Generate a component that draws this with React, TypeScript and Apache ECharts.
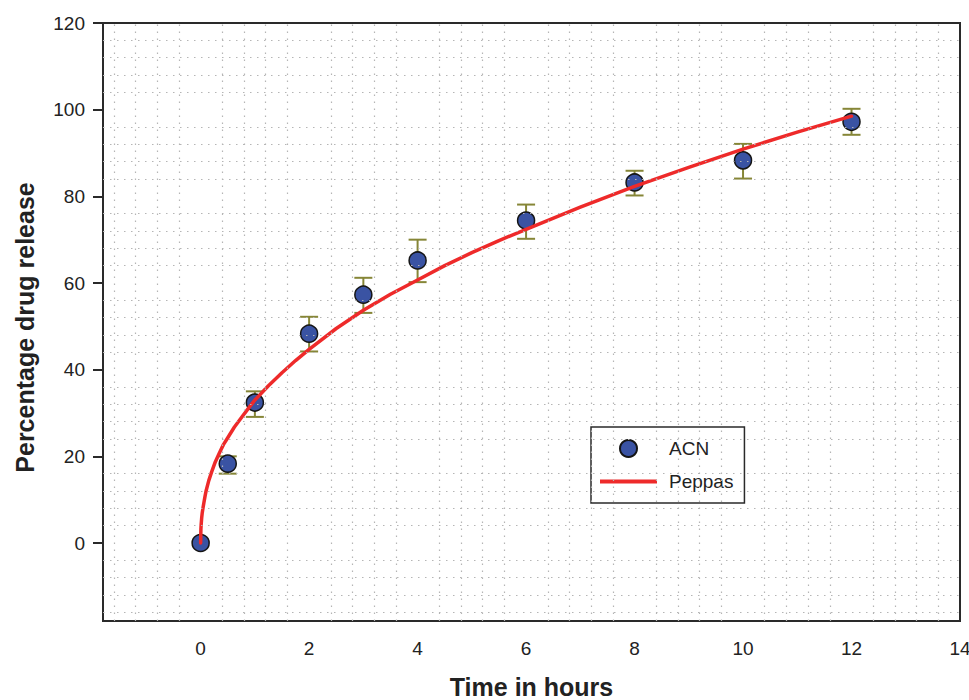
import React, { useEffect, useRef } from "react";
import * as echarts from "echarts";

// Observed release data (mean with error bar limits)
const timePoints = [0, 0.5, 1, 2, 3, 4, 6, 8, 10, 12];
const releaseMean = [0, 18.3, 32.4, 48.3, 57.3, 65.2, 74.4, 83.2, 88.3, 97.2];
const releaseLow = [0, 16, 29.1, 44.2, 53.1, 60.2, 70.2, 80.2, 84.1, 94.2];
const releaseHigh = [0, 20, 35, 52.2, 61.2, 70, 78.1, 85.9, 92.1, 100.2];

// Peppas fitted curve
const fitTime = [0, 0.005, 0.01, 0.02, 0.03, 0.045, 0.06, 0.08, 0.1, 0.15, 0.2, 0.27, 0.35, 0.42, 0.5, 0.62, 0.75, 0.87, 1, 1.25, 1.5, 1.75, 2, 2.5, 3, 3.5, 4, 4.5, 5, 5.5, 6, 7, 8, 9, 10, 11, 12];
const fitRelease = [0, 3.2, 4.3, 5.9, 7, 8.2, 9.3, 10.7, 12, 14.4, 16.3, 18.7, 20.9, 22.7, 24.3, 26.7, 28.9, 30.9, 33, 36.3, 39.3, 42.1, 44.7, 49.5, 53.7, 57.4, 60.7, 64, 67, 69.8, 72.4, 77.5, 82.3, 86.7, 90.9, 94.8, 98.5];

const xTickLabels = [0, 2, 4, 6, 8, 10, 12, 14];
const yTickLabels = [0, 20, 40, 60, 80, 100, 120];

const FONT = "'Liberation Sans', Arial, Helvetica, sans-serif";

export default function App() {
  const ref = useRef<HTMLDivElement>(null);

  useEffect(() => {
    if (!ref.current) return;
    const chart = echarts.init(ref.current, undefined, { renderer: "svg" });

    // dotted minor grid (axis decoration)
    const minorX: number[] = [];
    for (let i = -4; i <= 34; i++) {
      if (i % 5 !== 0) minorX.push(+(i * 0.4).toFixed(2));
    }
    const minorY: number[] = [];
    for (let i = -4; i <= 29; i++) {
      if (i % 5 !== 0) minorY.push(i * 4);
    }

    const errData = timePoints
      .map((t, i) => [t, releaseLow[i], releaseHigh[i]])
      .filter((d) => d[2] > d[1]);

    const option: any = {
      animation: false,
      backgroundColor: "#ffffff",
      textStyle: { fontFamily: FONT },
      grid: {
        left: 103,
        top: 23,
        right: 9,
        bottom: 79,
        containLabel: false,
        outerBoundsMode: "none",
        show: true,
        borderColor: "#2a2a2a",
        borderWidth: 2,
        backgroundColor: "transparent",
      },
      legend: {
        orient: "vertical",
        left: 591,
        top: 427,
        backgroundColor: "#ffffff",
        borderColor: "#2a2a2a",
        borderWidth: 1.5,
        borderRadius: 0,
        padding: [12, 11, 12, 9],
        itemGap: 14,
        itemWidth: 57,
        itemHeight: 17,
        symbolKeepAspect: true,
        textStyle: {
          fontSize: 19,
          color: "#222",
          fontFamily: FONT,
          padding: [0, 0, 0, 7],
        },
        data: [
          { name: "ACN", icon: "circle" },
          { name: "Peppas", icon: "path://M0,0L57,0L57,4L0,4Z" },
        ],
      },
      xAxis: {
        type: "value",
        min: -1.8,
        max: 14,
        splitNumber: 8,
        name: "Time in hours",
        nameLocation: "middle",
        nameGap: 54,
        nameTextStyle: {
          fontSize: 25,
          lineHeight: 24,
          fontWeight: "bold",
          color: "#222",
          fontFamily: FONT,
        },
        axisLine: { show: true, onZero: false, lineStyle: { color: "#2a2a2a", width: 2 } },
        axisTick: { show: false },
        axisLabel: {
          customValues: xTickLabels,
          fontSize: 19,
          color: "#222",
          margin: 18,
          fontFamily: FONT,
        },
        splitLine: { show: false },
      },
      yAxis: {
        type: "value",
        min: -18,
        max: 120,
        splitNumber: 7,
        name: "Percentage drug release",
        nameLocation: "middle",
        nameGap: 66,
        nameRotate: 90,
        nameTextStyle: {
          fontSize: 25,
          fontWeight: "bold",
          color: "#222",
          fontFamily: FONT,
          padding: [0, 11, 0, 0],
        },
        axisLine: { show: true, onZero: false, lineStyle: { color: "#2a2a2a", width: 2 } },
        axisTick: {
          show: true,
          customValues: yTickLabels,
          length: 10,
          lineStyle: { color: "#2a2a2a", width: 2 },
        },
        axisLabel: {
          customValues: yTickLabels,
          fontSize: 19,
          color: "#222",
          margin: 18,
          fontFamily: FONT,
        },
        splitLine: { show: false },
      },
      series: [
        {
          name: "grid",
          type: "line",
          data: [],
          silent: true,
          z: 0,
          markLine: {
            silent: true,
            symbol: ["none", "none"],
            label: { show: false },
            lineStyle: { type: [1.5, 5.5], color: "#b5b5b5", width: 1.2 },
            data: [
              ...minorX.map((v) => ({ xAxis: v })),
              ...minorY.map((v) => ({ yAxis: v })),
            ],
          },
        },
        {
          name: "error",
          type: "custom",
          z: 2,
          data: errData,
          encode: { x: 0, y: [1, 2] },
          renderItem: (params: any, api: any) => {
            const x = api.value(0);
            const lo = api.coord([x, api.value(1)]);
            const hi = api.coord([x, api.value(2)]);
            const hw = 9;
            const style = { stroke: "#868637", lineWidth: 2, fill: "none" };
            return {
              type: "group",
              children: [
                { type: "line", shape: { x1: lo[0], y1: lo[1], x2: hi[0], y2: hi[1] }, style },
                { type: "line", shape: { x1: lo[0] - hw, y1: lo[1], x2: lo[0] + hw, y2: lo[1] }, style },
                { type: "line", shape: { x1: hi[0] - hw, y1: hi[1], x2: hi[0] + hw, y2: hi[1] }, style },
              ],
            };
          },
        },
        {
          name: "ACN",
          type: "scatter",
          z: 3,
          symbol: "circle",
          symbolSize: 17,
          itemStyle: { color: "#3a53a3", borderColor: "#151515", borderWidth: 1.5, opacity: 1 },
          data: timePoints.map((t, i) => [t, releaseMean[i]]),
        },
        {
          name: "Peppas",
          type: "line",
          z: 4,
          symbol: "none",
          showSymbol: false,
          smooth: false,
          lineStyle: { color: "#ee2a2a", width: 3.5, cap: "round", join: "round" },
          itemStyle: { color: "#ee2a2a" },
          data: fitTime.map((t, i) => [t, fitRelease[i]]),
        },
      ],
    };

    chart.setOption(option);
    return () => chart.dispose();
  }, []);

  return (
    <div
      ref={ref}
      style={{ position: "absolute", left: 0, top: 0, width: 969, height: 700 }}
    />
  );
}
